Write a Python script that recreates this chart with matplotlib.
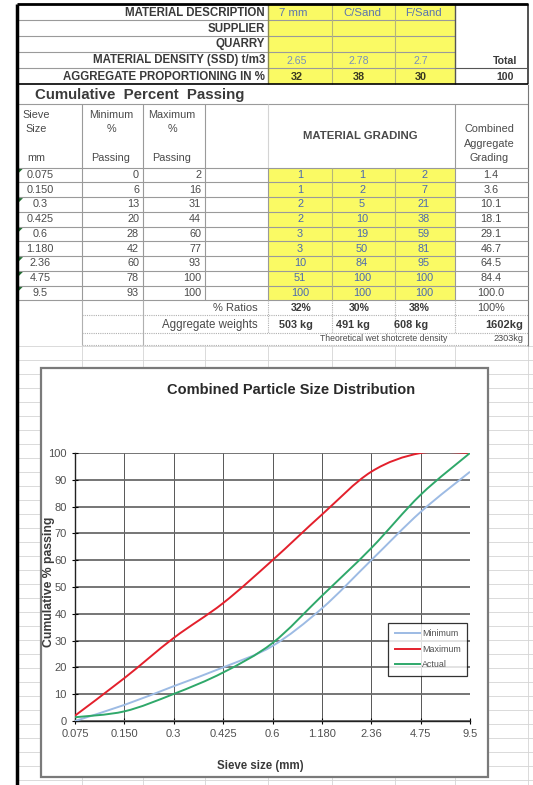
import matplotlib
matplotlib.use("Agg")
import matplotlib.pyplot as plt
from matplotlib.patches import Rectangle, PathPatch, Polygon
from matplotlib.path import Path
from matplotlib.lines import Line2D

plt.rcParams['font.family'] = ['Liberation Sans', 'DejaVu Sans']

# material header
materials = ["7 mm", "C/Sand", "F/Sand"]
densities = ["2.65", "2.78", "2.7"]
proportions = [32, 38, 30]
proportion_total = 100

# grading table
sieves = ["0.075", "0.150", "0.3", "0.425", "0.6", "1.180", "2.36", "4.75", "9.5"]
min_passing = [0, 6, 13, 20, 28, 42, 60, 78, 93]
max_passing = [2, 16, 31, 44, 60, 77, 93, 100, 100]
grading_7mm = [1, 1, 2, 2, 3, 3, 10, 51, 100]
grading_csand = [1, 2, 5, 10, 19, 50, 84, 100, 100]
grading_fsand = [2, 7, 21, 38, 59, 81, 95, 100, 100]
combined = [1.4, 3.6, 10.1, 18.1, 29.1, 46.7, 64.5, 84.4, 100.0]
flagged = [0, 2, 4, 6, 7, 8]   # cells with the green marker

ratios = ["32%", "30%", "38%"]
ratio_total = "100%"
weights = ["503 kg", "491 kg", "608 kg"]
weight_total = "1602kg"
wet_density = "2303kg"

W, H = 533, 785
fig = plt.figure(figsize=(W / 100, H / 100), dpi=100)
bg = fig.add_axes([0, 0, 1, 1])
bg.set_xlim(0, W)
bg.set_ylim(H, 0)
bg.axis('off')

YELLOW = '#fafa64'
GRID = '#d4d4d4'
LINE = '#9a9a9a'
cols = [17, 82, 143, 205, 268, 332, 395, 455, 528]
ycol = [300, 362, 424]


def txt(x, y, s, ha='center', size=7.8, weight='normal', color='#4a4a4a'):
    bg.text(x, y, s, ha=ha, va='center', fontsize=size, fontweight=weight, color=color)


def hline(y, x0, x1, color=LINE, lw=0.8, ls='-'):
    bg.plot([x0, x1], [y, y], color=color, lw=lw, ls=ls, solid_capstyle='butt')


def vline(x, y0, y1, color=LINE, lw=0.8, ls='-'):
    bg.plot([x, x], [y0, y1], color=color, lw=lw, ls=ls, solid_capstyle='butt')


# faint sheet gridlines behind everything
for y in range(346, H, 14):
    hline(y, 17, W, color=GRID, lw=0.6)
for x in cols[1:]:
    vline(x, 346, H, color=GRID, lw=0.6)

# ---- top block ----
top = [4, 20, 36, 52, 68, 84]
bg.add_patch(Rectangle((268, 4), 455 - 268, 80, color=YELLOW, lw=0))
for y in top[1:-1]:
    hline(y, 17, 455)
for x in [332, 395]:
    vline(x, 4, 84, color='#b5b57a')
vline(268, 4, 84, color='#8a8a50', lw=1)
vline(455, 4, 84, color='#555555', lw=1)
vline(528, 4, 84, color='#333333', lw=1.2)
hline(68, 455, 528, color='#555555')
labels = ["MATERIAL DESCRIPTION", "SUPPLIER", "QUARRY",
          "MATERIAL DENSITY (SSD) t/m3", "AGGREGATE PROPORTIONING IN %"]
for i, lab in enumerate(labels):
    txt(265, (top[i] + top[i + 1]) / 2 + 0.5, lab, ha='right', size=8.3, weight='bold',
        color='#3a3a3a')
name_x = [293, 362, 423]
for i in range(3):
    txt(name_x[i], 12.5, materials[i], size=8.2, color='#5a74b0')
    txt(ycol[i] - 3, 60.5, densities[i], size=7.6, color='#7890bc')
    txt(ycol[i] - 3, 76.5, str(proportions[i]), size=7.8, weight='bold', color='#3a3a20')
txt(505, 60.5, "Total", size=7.6, weight='bold', color='#3a3a3a')
txt(505, 76.5, str(proportion_total), size=7.6, weight='bold', color='#3a3a3a')
hline(4, 17, 528, color='black', lw=2)
hline(84, 17, 528, color='black', lw=1.2)

# ---- cumulative passing header ----
txt(140, 95, "Cumulative  Percent  Passing", size=10.8, weight='bold', color='#3a3a3a')
hline(104, 17, 528, color=LINE)
for x in [82, 143, 205]:
    vline(x, 104, 167.5)
vline(268, 104, 167.5, color=GRID)
vline(455, 104, 167.5)
vline(528, 84, 346, color='#777777')
for x, lines in [(36, ["Sieve", "Size", "", "mm"]),
                 (111, ["Minimum", "%", "", "Passing"]),
                 (172, ["Maximum", "%", "", "Passing"]),
                 (489, ["", "Combined", "Aggregate", "Grading"])]:
    for k, s in enumerate(lines):
        txt(x, 115 + k * 14.3, s, size=7.8)
txt(360, 136, "MATERIAL GRADING", size=8.2, weight='bold')

# ---- data rows ----
pitch = 14.75
y0 = 167.6
rows_end = y0 + pitch * len(sieves)
bg.add_patch(Rectangle((268, y0), 455 - 268, rows_end - y0, color=YELLOW, lw=0))
for i in range(len(sieves) + 1):
    hline(y0 + i * pitch, 17, 528)
for x in [82, 143, 205, 268, 455]:
    vline(x, y0, rows_end)
for x in [332, 395]:
    vline(x, y0, rows_end, color='#b5b57a')
for i, s in enumerate(sieves):
    yc = y0 + (i + 0.5) * pitch
    txt(40, yc, s)
    txt(139, yc, str(min_passing[i]), ha='right')
    txt(201, yc, str(max_passing[i]), ha='right')
    txt(ycol[0], yc, str(grading_7mm[i]), color='#4a68b0')
    txt(ycol[1], yc, str(grading_csand[i]), color='#4a68b0')
    txt(ycol[2], yc, str(grading_fsand[i]), color='#4a68b0')
    txt(491, yc, f"{combined[i]:.1f}")
for i in flagged:
    yt = y0 + i * pitch
    bg.add_patch(Polygon([[17, yt + 1], [23, yt + 1], [17, yt + 7]], color='#1f6b2f', lw=0))

# ---- summary rows ----
r1 = rows_end + pitch / 2
r2 = rows_end + pitch * 1.65
r3 = rows_end + pitch * 2.6
for y in [rows_end + pitch, rows_end + pitch * 2.2, rows_end + pitch * 3.05]:
    hline(y, 82, 528, color='#b0b0b0', ls=(0, (1, 1)))
for x in [82, 143]:
    vline(x, rows_end, rows_end + pitch * 3.05, color='#b0b0b0')
for x in [268, 332, 395, 455]:
    vline(x, rows_end, rows_end + pitch * 2.2, color='#b0b0b0', ls=(0, (1, 1)))
txt(258, r1, "% Ratios", ha='right', size=8)
txt(258, r2, "Aggregate weights", ha='right', size=8.3)
ratio_x = [312, 370, 430]
weight_x = [296, 353, 411]
for i in range(3):
    txt(ratio_x[i], r1, ratios[i], ha='right', size=7.6, weight='bold', color='#3a3a3a')
    txt(weight_x[i], r2, weights[i], size=7.8, weight='bold', color='#3a3a3a')
txt(491, r1, ratio_total, size=7.8)
txt(523, r2, weight_total, ha='right', size=8, weight='bold', color='#3a3a3a')
txt(447, r3, "Theoretical wet shotcrete density", ha='right', size=6.2)
txt(523, r3, wet_density, ha='right', size=6.6)

# chart frame
bg.add_patch(Rectangle((41, 368), 488 - 41, 777 - 368, facecolor='white',
                       edgecolor='#7a7a7a', lw=1.6, zorder=3))
bg.text(291, 390, "Combined Particle Size Distribution", ha='center', va='center',
        fontsize=10.5, fontweight='bold', color='#2a2a2a', zorder=4)
vline(17, 4, H, color='black', lw=2.5)

# ---- chart ----
ax = fig.add_axes([75 / W, 1 - 721 / H, 395 / W, 268 / H])
ax.set_facecolor('none')
ax.set_xlim(0, len(sieves) - 1)
ax.set_ylim(0, 100)
ax.set_xticks(range(len(sieves)))
ax.set_xticklabels(sieves)
ax.set_yticks(range(0, 101, 10))
ax.grid(axis='y', color='#6a6a6a', lw=1.3)
ax.grid(axis='x', color='#3c3c3c', lw=0.6)
ax.set_axisbelow(True)
for side in ['top', 'right']:
    ax.spines[side].set_visible(False)
for side in ['left', 'bottom']:
    ax.spines[side].set_color('#222222')
    ax.spines[side].set_linewidth(1)
ax.tick_params(direction='inout', length=4, width=0.8, labelsize=8,
               labelcolor='#505050', pad=4)


def smooth_path(ys):
    # cubic bezier through every point, like a spreadsheet "smoothed line"
    pts = list(zip(range(len(ys)), ys))
    n = len(pts)
    verts = [pts[0]]
    codes = [Path.MOVETO]
    for i in range(n - 1):
        p0 = pts[max(i - 1, 0)]
        p1 = pts[i]
        p2 = pts[i + 1]
        p3 = pts[min(i + 2, n - 1)]
        c1 = (p1[0] + (p2[0] - p0[0]) / 6, p1[1] + (p2[1] - p0[1]) / 6)
        c2 = (p2[0] - (p3[0] - p1[0]) / 6, p2[1] - (p3[1] - p1[1]) / 6)
        verts += [c1, c2, p2]
        codes += [Path.CURVE4] * 3
    return Path(verts, codes)


series = [("Minimum", min_passing, '#9dbbe4'),
          ("Maximum", max_passing, '#e3202c'),
          ("Actual", combined, '#2fa86a')]
handles = []
for name, vals, color in series:
    ax.add_patch(PathPatch(smooth_path(vals), fill=False, edgecolor=color, lw=1.4, zorder=3))
    handles.append(Line2D([], [], color=color, lw=1.4))

ax.set_ylabel("Cumulative % passing", fontsize=8.8, fontweight='bold', color='#3a3a3a')
ax.yaxis.set_label_coords(-0.05, 0.52)
ax.set_xlabel("Sieve size (mm)", fontsize=8.3, fontweight='bold', color='#3a3a3a')
ax.xaxis.set_label_coords(0.468, -0.145)

leg = ax.legend(handles, [s[0] for s in series], loc='lower right',
                bbox_to_anchor=(1.003, 0.153), fontsize=6.4, frameon=True,
                fancybox=False, handlelength=2.8, handletextpad=0.25,
                borderpad=0.7, labelspacing=0.75)
leg.get_frame().set_edgecolor('black')
leg.get_frame().set_linewidth(0.9)
for t in leg.get_texts():
    t.set_color('#505050')

fig.savefig("out.png", dpi=100)
